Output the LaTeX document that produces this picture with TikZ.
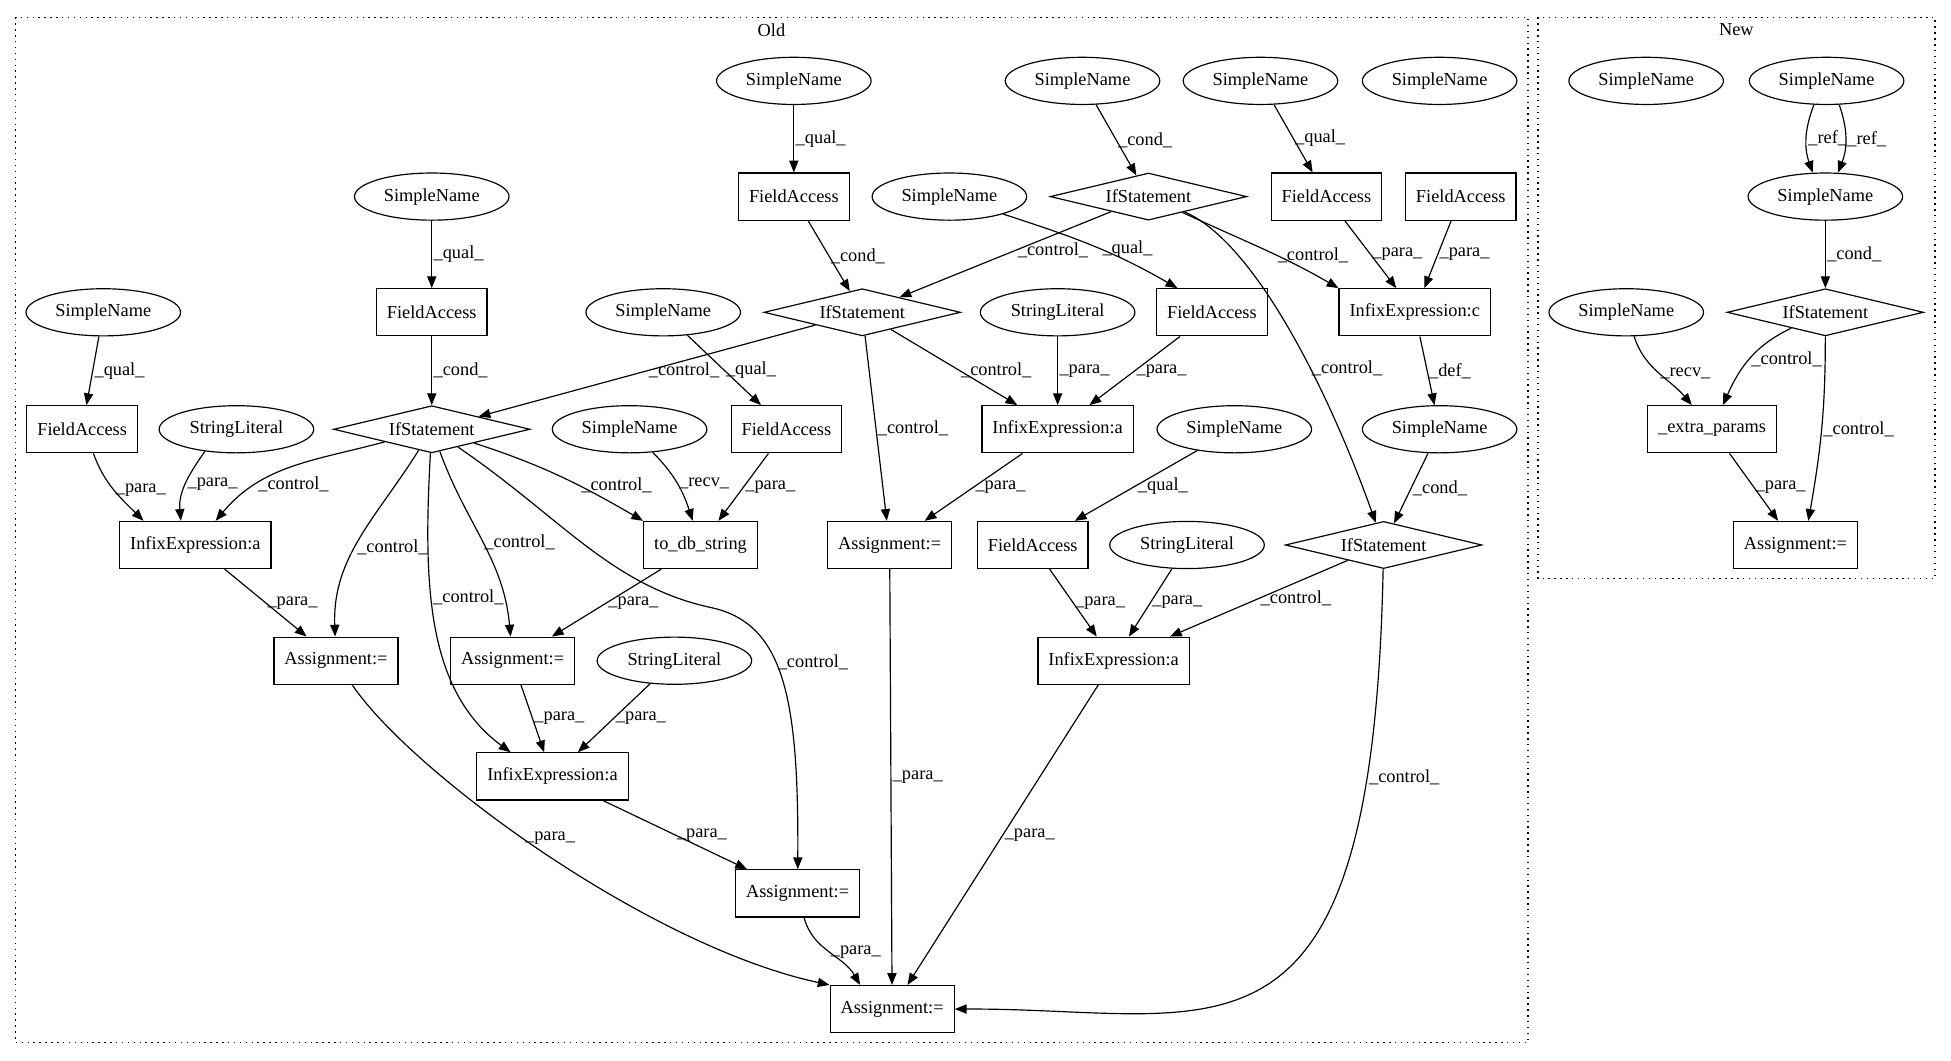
\documentclass[tikz,border=0pt]{standalone}
\usepackage{fontspec}
\setmainfont{Liberation Serif}
\usetikzlibrary{shapes.geometric, arrows.meta}
\newcommand{\gvfont}{\fontsize{14pt}{16pt}\selectfont}

\begin{document}
\begin{tikzpicture}[x=0.95pt, y=0.95pt,
    every node/.style={font=\gvfont, line width=0.9pt},
    sname/.style={draw, ellipse, minimum width=118pt, minimum height=36pt, inner sep=0pt},
    fbox/.style={draw, rectangle, minimum height=36pt, inner xsep=8pt, inner ysep=0pt},
    ifst/.style={draw, diamond, aspect=4.1, minimum width=150pt, minimum height=36pt, inner sep=0pt},
    elbl/.style={anchor=west, inner sep=1pt},
    arr/.style={-{Triangle[length=9pt, width=7pt]}, line width=0.9pt},
    clus/.style={line width=1.1pt, dash pattern=on 1.1pt off 3.4pt}]
  \useasboundingbox (0,0) rectangle (1568,-852);
  \draw[clus] (12.5,-14) rectangle (1228,-838);
  \draw[clus] (1236,-14) rectangle (1555,-465);
  \node (lold) at (620,-24) {Old};
  \node (lnew) at (1395.5,-24) {New};

  \node[sname] (sn1) at (638,-65) {SimpleName};
  \node[sname] (sn2) at (870,-65) {SimpleName};
  \node[sname] (sn3) at (1013,-65) {SimpleName};
  \node[sname] (sn4) at (1157,-65) {SimpleName};
  \node[sname] (sn5) at (347,-158) {SimpleName};
  \node[fbox] (fa1) at (638,-158) {FieldAccess};
  \node[sname] (sn6) at (763,-158) {SimpleName};
  \node[ifst] (if1) at (923,-158) {IfStatement};
  \node[fbox] (fa2) at (1066,-158) {FieldAccess};
  \node[fbox] (fa3) at (1174,-158) {FieldAccess};
  \node[sname] (sn7) at (83,-251) {SimpleName};
  \node[fbox] (fa4) at (347,-251) {FieldAccess};
  \node[sname] (sn8) at (533,-251) {SimpleName};
  \node[ifst] (if2) at (693,-251) {IfStatement};
  \node[sname] (sl1) at (850,-251) {StringLiteral};
  \node[fbox] (fa5) at (974,-251) {FieldAccess};
  \node[fbox] (ixc) at (1137,-251) {InfixExpression:c};
  \node[fbox] (fa6) at (66,-345) {FieldAccess};
  \node[sname] (sl2) at (190,-345) {StringLiteral};
  \node[ifst] (if3) at (347,-345) {IfStatement};
  \node[sname] (sn9) at (506,-345) {SimpleName};
  \node[fbox] (fa7) at (632,-345) {FieldAccess};
  \node[fbox] (ixa1) at (850,-345) {InfixExpression:a};
  \node[sname] (sn10) at (992,-345) {SimpleName};
  \node[sname] (sn11) at (1157,-345) {SimpleName};
  \node[fbox] (ixa2) at (157,-438) {InfixExpression:a};
  \node[fbox] (todb) at (563,-438) {to\_db\_string};
  \node[fbox] (asg1) at (715,-438) {Assignment:=};
  \node[fbox] (fa8) at (830,-438) {FieldAccess};
  \node[sname] (sl3) at (954,-438) {StringLiteral};
  \node[ifst] (if4) at (1112,-438) {IfStatement};
  \node[fbox] (asg2) at (270,-531) {Assignment:=};
  \node[fbox] (asg3) at (412,-531) {Assignment:=};
  \node[sname] (sl4) at (542,-531) {StringLiteral};
  \node[fbox] (ixa3) at (895,-531) {InfixExpression:a};
  \node[fbox] (ixa4) at (444,-624) {InfixExpression:a};
  \node[fbox] (asg4) at (641,-718) {Assignment:=};
  \node[fbox] (asg5) at (717,-811) {Assignment:=};

  \node[sname] (nsn1) at (1323,-65) {SimpleName};
  \node[sname] (nsn2) at (1468,-65) {SimpleName};
  \node[sname] (nsn3) at (1467,-158) {SimpleName};
  \node[sname] (nsn4) at (1307,-251) {SimpleName};
  \node[ifst] (nif) at (1467,-251) {IfStatement};
  \node[fbox] (nep) at (1376,-345) {\_extra\_params};
  \node[fbox] (nasg) at (1443,-438) {Assignment:=};

  \draw[arr] (sn1) -- node[elbl] {\_qual\_} (fa1);
  \draw[arr] (fa1) -- node[elbl] {\_cond\_} (if2);
  \draw[arr] (sn2) -- node[elbl] {\_cond\_} (if1);
  \draw[arr] (sn3) -- node[elbl] {\_qual\_} (fa2);
  \draw[arr] (if1) -- node[elbl, pos=0.45] {\_control\_} (if2);
  \draw[arr] (if1) to[out=-25, in=150] node[elbl, pos=0.6] {\_control\_} (ixc.north west);
  \draw[arr] (if1) .. controls (1010,-195) and (1070,-320) .. (if4) node[elbl, pos=0.6] {\_control\_};
  \draw[arr] (fa2) -- node[elbl] {\_para\_} (ixc);
  \draw[arr] (fa3) -- node[elbl] {\_para\_} (ixc);
  \draw[arr] (sn6) to[out=-18, in=150] node[elbl, pos=0.55] {\_qual\_} (fa5.145);
  \draw[arr] (ixc) -- node[elbl] {\_def\_} (sn11);
  \draw[arr] (sn5) -- node[elbl] {\_qual\_} (fa4);
  \draw[arr] (fa4) -- node[elbl] {\_cond\_} (if3);
  \draw[arr] (sn8) -- node[elbl] {\_qual\_} (fa7);
  \draw[arr] (if2) -- node[elbl] {\_control\_} (if3);
  \draw[arr] (if2) -- node[elbl, pos=0.54] {\_control\_} (ixa1);
  \draw[arr] (if2) -- node[elbl] {\_control\_} (asg1);
  \draw[arr] (sl1) -- node[elbl] {\_para\_} (ixa1);
  \draw[arr] (fa5) -- node[elbl] {\_para\_} (ixa1);
  \draw[arr] (sn7) -- node[elbl] {\_qual\_} (fa6);
  \draw[arr] (fa6.-65) to[out=-70, in=135] node[elbl] {\_para\_} (ixa2.155);
  \draw[arr] (sl2.-145) to[out=-125, in=95] node[elbl] {\_para\_} (ixa2.121);
  \draw[arr] (if3) to[out=195, in=50] node[elbl, pos=0.72] {\_control\_} (ixa2);
  \draw[arr] (if3) to[out=-18, in=150] node[elbl, pos=0.62] {\_control\_} (todb.north west);
  \draw[arr] (sn9) to[out=-45, in=108] node[elbl] {\_recv\_} (todb);
  \draw[arr] (fa7) -- node[elbl] {\_para\_} (todb);
  \draw[arr] (sn10) -- node[elbl] {\_qual\_} (fa8);
  \draw[arr] (sn11) -- node[elbl] {\_cond\_} (if4);
  \draw[arr] (if3) to[out=-122, in=92] node[elbl, pos=0.55] {\_control\_} (asg2);
  \draw[arr] (if3) .. controls (340,-470) and (343,-555) .. (ixa4.150) node[elbl, pos=0.4] {\_control\_};
  \draw[arr] (if3) to[out=-70, in=95] node[elbl] {\_control\_} (asg3);
  \draw[arr] (if3) .. controls (450,-415) and (490,-470) .. (570,-488)
    .. controls (630,-500) and (642,-560) .. (asg4) node[elbl, pos=0.43] {\_control\_};
  \draw[arr] (ixa2) -- node[elbl] {\_para\_} (asg2);
  \draw[arr] (todb) -- node[elbl] {\_para\_} (asg3);
  \draw[arr] (asg3) -- node[elbl] {\_para\_} (ixa4);
  \draw[arr] (sl4) -- node[elbl] {\_para\_} (ixa4);
  \draw[arr] (ixa4) -- node[elbl] {\_para\_} (asg4);
  \draw[arr] (ixa1) -- node[elbl] {\_para\_} (asg1);
  \draw[arr] (asg2) .. controls (330,-620) and (520,-760) .. (asg5.north west) node[elbl, pos=0.46] {\_para\_};
  \draw[arr] (asg4) to[out=-75, in=120] node[elbl] {\_para\_} (asg5.143);
  \draw[arr] (asg1) -- node[elbl] {\_para\_} (asg5);
  \draw[arr] (ixa3) -- node[elbl] {\_para\_} (asg5);
  \draw[arr] (if4) .. controls (1103,-880) and (980,-810) .. (asg5.east) node[elbl, pos=0.16] {\_control\_};
  \draw[arr] (fa8) -- node[elbl] {\_para\_} (ixa3);
  \draw[arr] (sl3) -- node[elbl] {\_para\_} (ixa3);
  \draw[arr] (if4) -- node[elbl] {\_control\_} (ixa3);

  \draw[arr] (nsn2.-118) to[bend right=20] node[elbl] {\_ref\_} (nsn3.118);
  \draw[arr] (nsn2.-62) to[bend left=20] node[elbl] {\_ref\_} (nsn3.62);
  \draw[arr] (nsn3) -- node[elbl] {\_cond\_} (nif);
  \draw[arr] (nsn4) to[out=-72, in=130] node[elbl] {\_recv\_} (nep);
  \draw[arr] (nif) to[out=205, in=66] node[elbl] {\_control\_} (nep);
  \draw[arr] (nif) to[out=-90, in=80] node[elbl] {\_control\_} (nasg.62);
  \draw[arr] (nep) -- node[elbl] {\_para\_} (nasg);
\end{tikzpicture}
\end{document}
